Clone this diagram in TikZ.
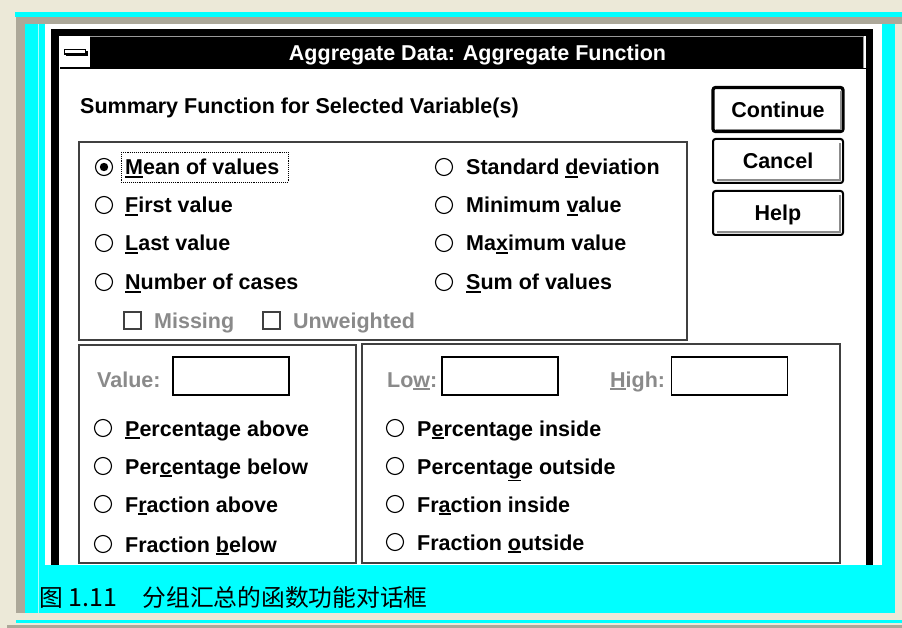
\documentclass[tikz,border=0pt]{standalone}
\usepackage{fontspec}
\setmainfont{Liberation Sans}
\newfontfamily\cjk{Noto Sans CJK SC}
\definecolor{pagebg}{HTML}{ECE9D8}
\definecolor{hilite}{HTML}{00FFFF}
\definecolor{edgegray}{HTML}{ACA899}
\definecolor{dimtxt}{HTML}{8A8A8A}
\newcommand\uif{\bfseries\fontsize{21.5}{24}\selectfont}
% underlined access key
\newsavebox\accbox
\newdimen\accdp
\newcommand\acc[1]{\sbox\accbox{#1}\accdp=\dp\accbox\advance\accdp by 2.8pt\rlap{\rule[-\accdp]{\wd\accbox}{1.7pt}}\usebox\accbox}
\tikzset{
  lbl/.style={anchor=base west, inner sep=0pt, font=\uif},
  dimlbl/.style={lbl, text=dimtxt},
  radio/.style={circle, draw=black, line width=1.1pt, minimum size=17pt, inner sep=0pt},
  chkbox/.style={draw=black!75, line width=1.2pt, minimum size=17pt, inner sep=0pt},
  field/.style={draw=black, line width=1.4pt, minimum width=116pt, minimum height=38pt, inner sep=0pt},
  grp/.style={draw=black!75, line width=1.4pt},
  btn/.style={draw=black, line width=2pt, rounded corners=2.5pt, minimum width=130pt,
    minimum height=44pt, inner sep=0pt, font=\uif, text height=15.4pt, text depth=0pt},
  defbtn/.style={btn, line width=3.2pt},
  btnshade/.style={draw=black!45, line width=1.5pt},
}
\begin{document}
\begin{tikzpicture}[x=1pt,y=-1pt]
\useasboundingbox (0,0) rectangle (902,628);
% page and highlighted frame
\fill[pagebg] (0,0) rectangle (902,628);
\fill[hilite] (15,12) rectangle (902,17);
\fill[edgegray] (16,17) rectangle (902,24);
\fill[edgegray] (16,17) rectangle (25,613);
\fill[hilite] (25,24) rectangle (895,613);
\draw[hilite!35!white, line width=0.8pt] (38,24) -- (38,613);
\fill[white] (45,24) rectangle (882,565);
\fill[hilite] (16,620) rectangle (902,623);
\fill[edgegray] (7,625) rectangle (902,628);

% window frame and title bar
\fill[black] (51,29) rectangle (873,565);
\fill[white] (59,36) rectangle (866,565);
\fill[black] (60,36) rectangle (864,68);
\draw[black!40, line width=1.2pt] (60,36.6) -- (863.4,36.6) -- (863.4,68);
\fill[white] (60,36) rectangle (90,67);
\draw[black, line width=1.5pt] (60,68.3) -- (866,68.3);
\draw[black, line width=1.4pt, fill=white] (64.5,49.5) rectangle (85.5,54);
\draw[black, line width=1.4pt] (66,55.5) -- (87,55.5) -- (87,51);
\node[font=\uif, text=white, anchor=base, inner sep=0pt] (title) at (477.5,60.5) {Aggregate Data: Aggregate Function};

% heading
\node[lbl] (head) at (80,113.5) {Summary Function for Selected Variable(s)};

% buttons
\node[defbtn] (cont) at (778,109.5) {Continue};
\node[btn] (cancel) at (778,161) {Cancel};
\node[btn] (help) at (778,213) {Help};
\foreach \b in {cont,cancel,help}{
  \draw[btnshade] ([shift={(5,-3.8)}]\b.south west) -- ([shift={(-3.8,-3.8)}]\b.south east) -- ([shift={(-3.8,5)}]\b.north east);
}

% group boxes
\draw[grp] (79,142) rectangle (687,340);
\draw[grp] (79,345) rectangle (356,563);
\draw[grp] (362,344) rectangle (840,563);

% summary functions, left column
\node[radio] (rmean) at (104,167) {};
\fill[black] (rmean.center) circle (4.2pt);
\node[lbl] (tmean) at (125,175) {\acc{M}ean of values};
\draw[black, densely dotted, line width=0.9pt] (121,152) rectangle (288,182);
\node[radio] (rfirst) at (104,205) {};
\node[lbl] (tfirst) at (125,213) {\acc{F}irst value};
\node[radio] (rlast) at (104,243) {};
\node[lbl] (tlast) at (125,251) {\acc{L}ast value};
\node[radio] (rnum) at (104,282) {};
\node[lbl] (tnum) at (125,290) {\acc{N}umber of cases};
\node[chkbox] (cmiss) at (132.5,320.5) {};
\node[dimlbl] (tmiss) at (154,328) {Missing};
\node[chkbox] (cunw) at (271.5,320.5) {};
\node[dimlbl] (tunw) at (293,328) {Unweighted};

% summary functions, right column
\node[radio] (rsd) at (444,167) {};
\node[lbl] (tsd) at (466,175) {Standard \acc{d}eviation};
\node[radio] (rmin) at (444,205) {};
\node[lbl] (tmin) at (466,213) {Minimum \acc{v}alue};
\node[radio] (rmax) at (444,243) {};
\node[lbl] (tmax) at (466,251) {Ma\acc{x}imum value};
\node[radio] (rsum) at (444,282) {};
\node[lbl] (tsum) at (466,290) {\acc{S}um of values};

% single cut point
\node[dimlbl] (tval) at (97,387) {Value:};
\node[field] (fval) at (231,376) {};
\node[radio] (rpa) at (103,428) {};
\node[lbl] (tpa) at (125,436) {\acc{P}ercentage above};
\node[radio] (rpb) at (103,466) {};
\node[lbl] (tpb) at (125,474) {Per\acc{c}entage below};
\node[radio] (rfa) at (103,504) {};
\node[lbl] (tfa) at (125,512) {F\acc{r}action above};
\node[radio] (rfb) at (103,544) {};
\node[lbl] (tfb) at (125,552) {Fraction \acc{b}elow};

% interval
\node[dimlbl] (tlow) at (387,387) {Lo\acc{w}:};
\node[field] (flow) at (500,376) {};
\node[dimlbl] (thigh) at (610,387) {\acc{H}igh:};
\node[field] (fhigh) at (729.5,376) {};
\node[radio] (rpi) at (395,428) {};
\node[lbl] (tpi) at (417,436) {P\acc{e}rcentage inside};
\node[radio] (rpo) at (395,466) {};
\node[lbl] (tpo) at (417,474) {Percenta\acc{g}e outside};
\node[radio] (rfi) at (395,504) {};
\node[lbl] (tfi) at (417,512) {Fr\acc{a}ction inside};
\node[radio] (rfo) at (395,542) {};
\node[lbl] (tfo) at (417,550) {Fraction \acc{o}utside};

% caption
\node[anchor=base west, inner sep=0pt, font=\cjk\fontsize{23.75}{26}\selectfont] (cap) at (39,606.5)
  {图\hspace{6pt}{\fontsize{25}{26}\selectfont 1.11}\hspace{25pt}分组汇总的函数功能对话框};
\end{tikzpicture}
\end{document}
